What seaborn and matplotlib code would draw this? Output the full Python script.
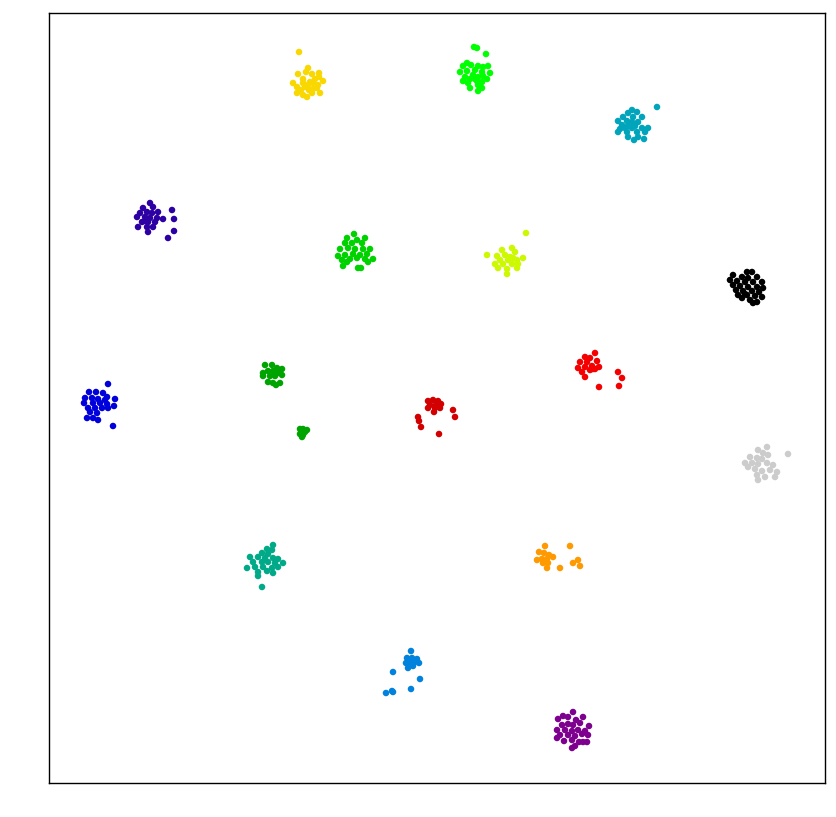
import matplotlib
matplotlib.use("Agg")
import matplotlib.pyplot as plt
import seaborn as sns
import pandas as pd
import numpy as np

# cluster points (embedding coordinates)
c0_x = [747,752,733,742,748,757,730,737,745,753,762,733,740,748,757,763,736,743,752,759,738,747,755,762,742,750,757,753,745]
c0_y = [272,272,275,277,278,277,280,281,282,282,282,285,286,287,287,288,290,291,291,292,295,295,296,297,298,300,302,303,294]
c1_x = [573,563,568,583,558,576,562,568,573,580,589,557,565,572,578,585,560,568,575,582,588,557,572,564,579,587,575,572,583]
c1_y = [712,716,717,717,719,720,725,724,725,723,726,730,730,731,730,731,735,735,736,734,735,738,740,741,742,742,746,748,742]
c2_x = [150,143,153,147,140,152,158,172,137,145,150,157,163,174,142,148,155,138,147,153,174,148,168,145]
c2_y = [203,208,207,212,213,213,212,210,217,217,218,218,219,219,222,222,222,227,227,227,231,232,238,221]
c3_x = [108,89,96,103,107,85,92,98,105,115,84,93,100,107,114,88,95,102,108,90,97,87,93,98,113]
c3_y = [384,392,392,393,397,398,398,399,400,399,403,403,403,404,406,408,408,408,408,412,413,418,418,420,426]
c4_x = [411,407,412,417,406,411,415,419,408,413,393,420,411,392,393,386,409]
c4_y = [651,658,658,659,663,663,662,663,668,666,672,679,689,691,692,693,662]
c5_x = [657,632,628,637,623,633,642,618,627,632,638,622,628,635,620,632,642,648,618,627,637,645,628,638,634,644,625]
c5_y = [107,110,113,112,117,117,117,121,121,122,122,125,126,126,129,128,128,128,132,132,132,132,137,137,140,139,128]
c6_x = [273,267,272,262,268,250,258,265,273,278,253,262,268,275,283,247,255,263,272,278,258,267,273,258,262]
c6_y = [545,549,550,553,554,557,557,558,558,559,562,562,562,563,563,568,567,567,568,567,572,571,573,576,587]
c7_x = [265,272,277,282,263,268,273,278,282,263,270,275,268,273,280,276,300,303,307,302,305,300,303,302]
c7_y = [365,365,368,369,373,371,371,373,375,376,376,376,382,383,383,385,429,429,430,432,432,434,435,437]
c8_x = [354,347,357,365,345,352,362,340,348,355,363,370,338,345,353,360,367,342,350,357,365,373,347,343,361,358,368]
c8_y = [234,238,240,238,243,243,243,249,248,249,249,249,256,255,254,255,254,260,259,258,259,259,262,266,268,268,262]
c9_x = [474,477,486,467,463,471,478,483,488,460,467,475,482,490,465,473,478,483,463,470,477,482,487,468,478,470,482,478,475]
c9_y = [47,48,54,63,66,65,66,67,66,72,71,70,72,73,77,75,77,76,81,79,81,82,79,83,85,88,88,91,79]
c10_x = [526,487,502,512,515,497,505,510,523,500,508,517,495,503,512,518,498,507,517,507,513]
c10_y = [233,255,250,248,252,256,255,257,258,260,260,260,264,264,264,264,268,269,268,274,258]
c11_x = [299,308,306,298,312,319,319,323,293,297,303,310,313,305,317,320,297,303,307,312,309,315,308,303,313,301,318]
c11_y = [52,68,72,74,74,73,77,81,83,87,79,82,83,87,88,93,93,95,97,93,90,79,85,83,89,90,85]
c12_x = [545,570,539,544,549,537,542,547,553,543,548,578,573,580,547,560]
c12_y = [546,546,552,553,555,560,559,559,557,563,563,560,563,566,568,568]
c13_x = [595,585,590,580,587,597,578,585,592,599,582,590,595,585,618,622,619,599,593]
c13_y = [353,357,358,362,362,361,368,367,366,367,372,370,369,377,372,378,386,387,369]
c14_x = [428,433,438,430,436,441,428,435,440,434,453,455,418,419,421,439]
c14_y = [401,400,401,405,405,404,408,408,408,412,410,417,417,421,427,434]
c15_x = [767,758,788,763,768,750,757,762,745,752,758,767,773,748,755,762,770,777,757,765,775,758]
c15_y = [447,450,454,453,455,457,458,459,463,463,464,463,465,467,469,471,470,472,475,477,477,480]

xs = [c0_x, c1_x, c2_x, c3_x, c4_x, c5_x, c6_x, c7_x, c8_x, c9_x, c10_x, c11_x, c12_x, c13_x, c14_x, c15_x]
ys = [c0_y, c1_y, c2_y, c3_y, c4_y, c5_y, c6_y, c7_y, c8_y, c9_y, c10_y, c11_y, c12_y, c13_y, c14_y, c15_y]
labels = list(range(16))

rows = []
for lab, cx, cy in zip(labels, xs, ys):
    for a, b in zip(cx, cy):
        rows.append((a, b, lab))
df = pd.DataFrame(rows, columns=["x", "y", "label"])

cmap = plt.get_cmap("nipy_spectral")
palette = {lab: cmap(lab / 15.0) for lab in labels}

fig = plt.figure(figsize=(8.37, 8.17), dpi=100)
ax = fig.add_axes([49/837, 1 - 783/817, (825-49)/837, (783-13)/817])
sns.scatterplot(data=df, x="x", y="y", hue="label", palette=palette, s=22,
                linewidth=0, legend=False, ax=ax)
ax.set_xlim(49, 825)
ax.set_ylim(783, 13)
ax.set_xticks([])
ax.set_yticks([])
ax.set_xlabel("")
ax.set_ylabel("")
for sp in ax.spines.values():
    sp.set_color("black")
    sp.set_linewidth(1)
fig.savefig("out.png", dpi=100)
